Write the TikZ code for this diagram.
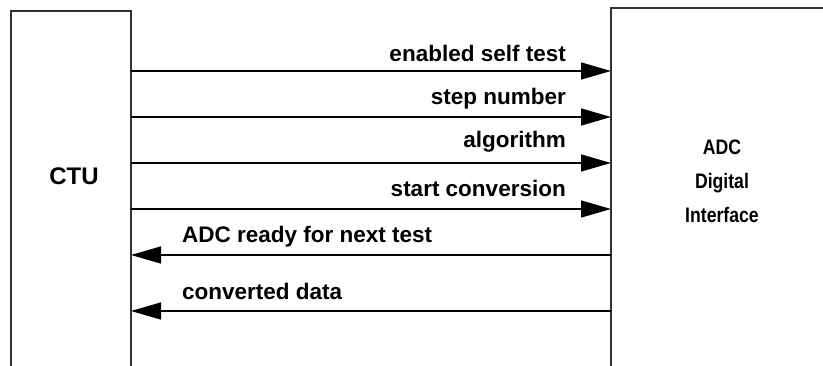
\documentclass[tikz,border=0pt]{standalone}
\usepackage{fontspec}
\setmainfont{Liberation Sans}
\newfontfamily\narrowsans{Liberation Sans}[FakeStretch=0.84]
\usepackage{tikz}
\usetikzlibrary{arrows.meta, positioning, calc}

\begin{document}
\begin{tikzpicture}[x=1pt, y=-1pt,
    unit/.style={draw=black!80, line width=1.8pt, inner sep=0pt, outer sep=0pt,
                 anchor=north west, minimum height=420pt},
    title/.style={font=\fontsize{24}{28}\selectfont\bfseries},
    lbl/.style={font=\fontsize{22.5}{27}\selectfont\bfseries, inner sep=0pt},
    sig/.style={-{Triangle[length=30pt, width=17pt]}, line width=1.4pt, black},
]
    \useasboundingbox (0,0) rectangle (823,366);
    \clip (0,0) rectangle (823,366);

    % the two blocks, cut off by the frame
    \node[unit, minimum width=120pt] (ctu) at (11,11) {};
    \node[unit, minimum width=300pt] (adc) at (611,8) {};

    \node[title] (ctutxt) at (74,176) {CTU};
    \node[font=\narrowsans\fontsize{21}{34}\selectfont\bfseries, align=center] (adctxt) at (722,181)
        {ADC\\Digital\\Interface};

    % CTU -> ADC
    \draw[sig] (ctu.east |- 0,71) -- (adc.west |- 0,71);
    \node[lbl, anchor=base east] (selftest) at (566,62) {enabled self test};
    \draw[sig] (ctu.east |- 0,117) -- (adc.west |- 0,117);
    \node[lbl, anchor=base east] (stepnum) at (566,105) {step number};
    \draw[sig] (ctu.east |- 0,163) -- (adc.west |- 0,163);
    \node[lbl, anchor=base east] (algo) at (566,148) {algorithm};
    \draw[sig] (ctu.east |- 0,209) -- (adc.west |- 0,209);
    \node[lbl, anchor=base east] (startconv) at (566,197) {start conversion};

    % ADC -> CTU
    \draw[sig] (adc.west |- 0,255) -- (ctu.east |- 0,255);
    \node[lbl, anchor=base west] (ready) at (182,243) {ADC ready for next test};
    \draw[sig] (adc.west |- 0,311) -- (ctu.east |- 0,311);
    \node[lbl, anchor=base west] (convdata) at (182,300) {converted data};
\end{tikzpicture}
\end{document}
